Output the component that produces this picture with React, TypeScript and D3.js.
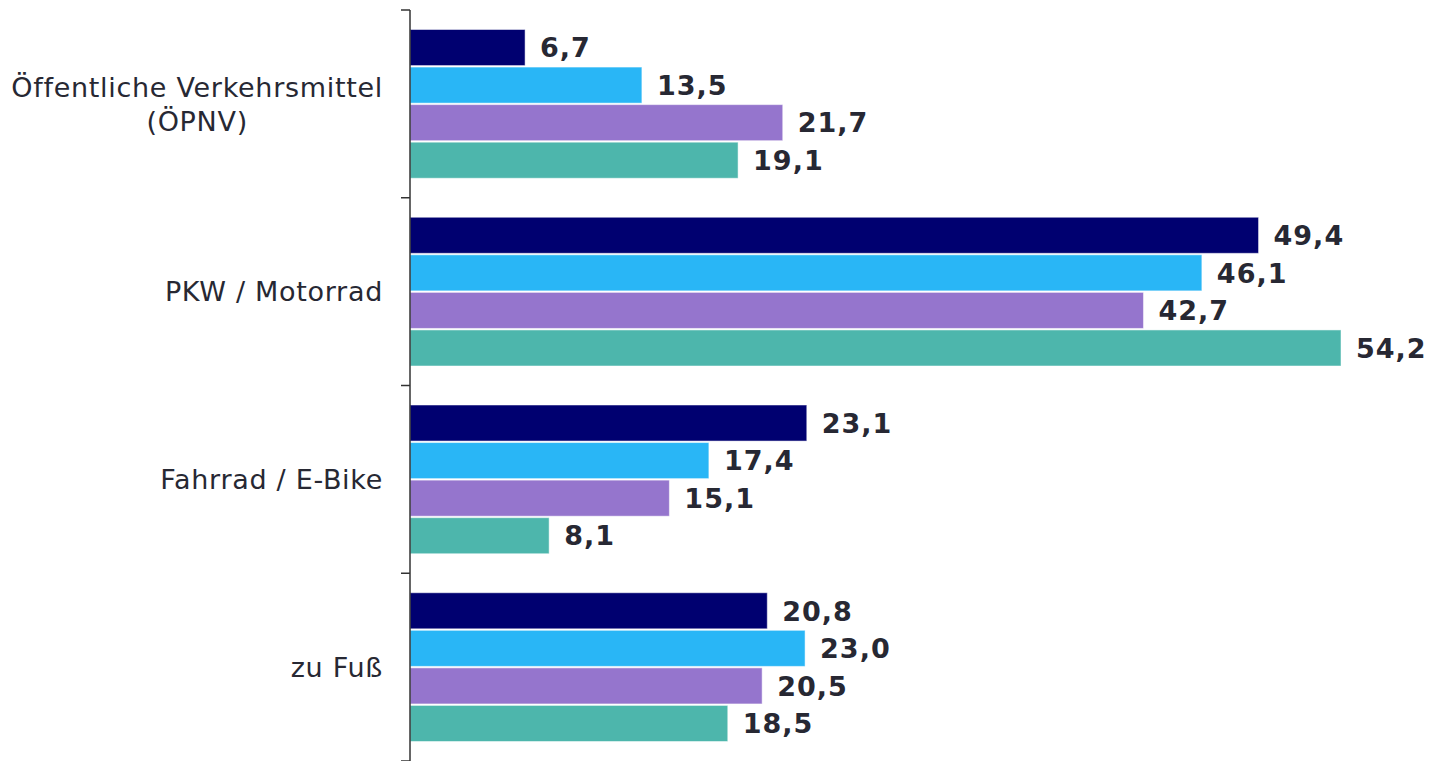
import React, { useLayoutEffect, useRef, useState } from "react";
import * as d3 from "d3";

const categories = ["Öffentliche Verkehrsmittel\n(ÖPNV)", "PKW / Motorrad", "Fahrrad / E-Bike", "zu Fuß"];
const seriesNames = ["S1", "S2", "S3", "S4"];
const seriesColors = ["#000070", "#29B6F6", "#9575CD", "#4DB6AC"];
const values: number[][] = [
  [6.7, 49.4, 23.1, 20.8],
  [13.5, 46.1, 17.4, 23.0],
  [21.7, 42.7, 15.1, 20.5],
  [19.1, 54.2, 8.1, 18.5],
];

const W = 1430;
const H = 761;
const axisX = 410;
const top = 10;
const bottom = 761;
const labelRight = 383;

function CatLabel({ text, cy }: { text: string; cy: number }) {
  const lines = text.split("\n");
  const refs = useRef<(SVGTextElement | null)[]>([]);
  const [widths, setWidths] = useState<number[]>(lines.map(() => 0));
  useLayoutEffect(() => {
    const w = refs.current.map((el) => (el ? el.getComputedTextLength() : 0));
    setWidths(w);
  }, [text]);
  const maxW = Math.max(...widths);
  const centerX = labelRight - maxW / 2;
  const lh = 34;
  return (
    <g>
      {lines.map((l, li) => (
        <text
          key={li}
          ref={(el) => {
            refs.current[li] = el;
          }}
          x={lines.length > 1 ? centerX : labelRight}
          y={cy + (li - (lines.length - 1) / 2) * lh}
          dy="0.36em"
          textAnchor={lines.length > 1 ? "middle" : "end"}
          fontFamily="DejaVu Sans"
          fontSize={27}
          letterSpacing={0.7}
          fill="#272833"
        >
          {l}
        </text>
      ))}
    </g>
  );
}

export default function App() {
  const y = d3.scaleBand<string>().domain(categories).range([top, bottom]).padding(0);
  const bw = y.bandwidth();
  const inner = d3
    .scaleBand<string>()
    .domain(seriesNames)
    .range([19.5, bw - 19.5])
    .paddingInner(0.04)
    .paddingOuter(0);
  const x = d3.scaleLinear().domain([0, 54.2]).range([axisX, 1341]);
  const fmt = (v: number) => v.toFixed(1).replace(".", ",");
  const ticks = categories.map((c) => y(c)!).concat([bottom]);

  return (
    <svg width={W} height={H} style={{ display: "block", position: "absolute", left: 0, top: 0 }}>
      <rect width={W} height={H} fill="#fff" />
      {categories.map((c, ci) => (
        <g key={c} transform={`translate(0,${y(c)})`}>
          {seriesNames.map((s, si) => {
            const v = values[si][ci];
            const by = inner(s)!;
            return (
              <g key={s}>
                <rect
                  x={x(0)}
                  y={by}
                  width={x(v) - x(0)}
                  height={inner.bandwidth()}
                  fill={seriesColors[si]}
                  stroke="#ffffff"
                  strokeOpacity={0.5}
                  strokeWidth={1}
                />
                <text
                  x={x(v) + 15}
                  y={by + inner.bandwidth() / 2}
                  dy="0.36em"
                  fontFamily="DejaVu Sans"
                  fontWeight="bold"
                  fontSize={27}
                  letterSpacing={1}
                  fill="#272833"
                >
                  {fmt(v)}
                </text>
              </g>
            );
          })}
          <CatLabel text={c} cy={bw / 2} />
        </g>
      ))}
      <line x1={axisX} x2={axisX} y1={top} y2={bottom} stroke="#333" strokeWidth={1.5} />
      {ticks.map((t, i) => (
        <line key={i} x1={axisX - 9} x2={axisX} y1={t} y2={t} stroke="#333" strokeWidth={1.5} />
      ))}
    </svg>
  );
}
